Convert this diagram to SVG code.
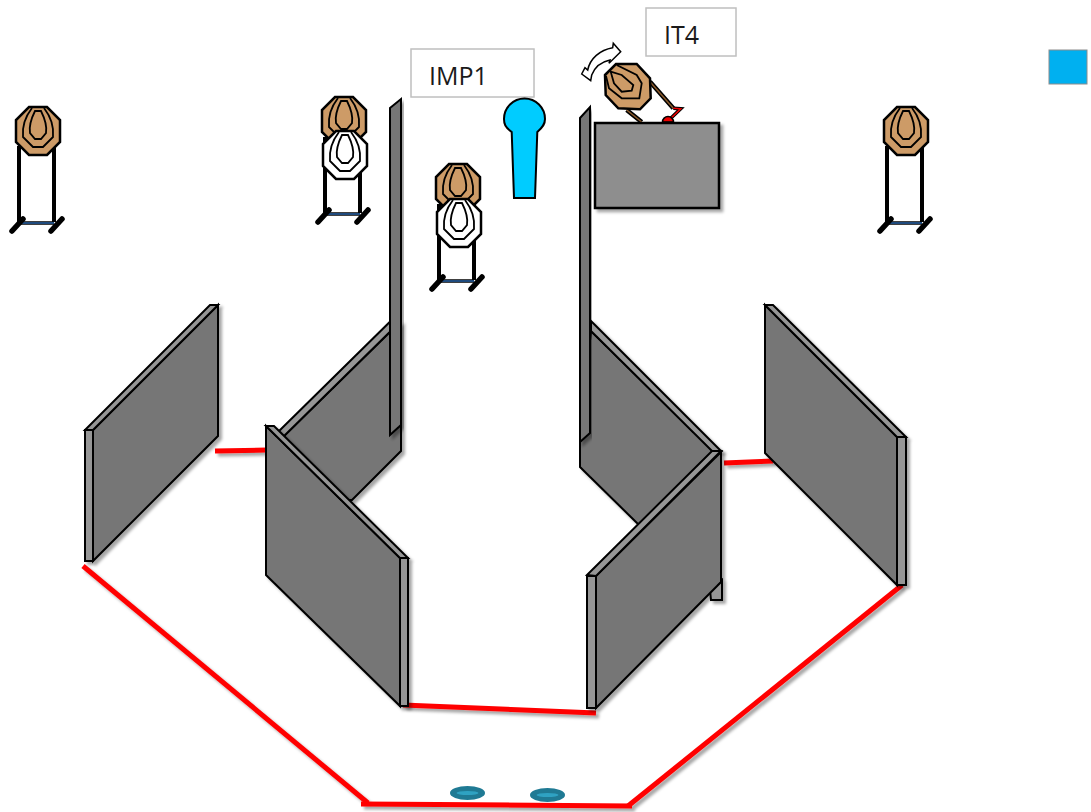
<svg xmlns="http://www.w3.org/2000/svg" width="1091" height="812" viewBox="0 0 1091 812">
<style>
text{font-family:"Open Sans","Noto Sans","Liberation Sans",sans-serif;font-size:25px;fill:#1a1a1a}
.box{fill:#fff;stroke:#bfbfbf;stroke-width:1.5}
.face{fill:#767676;stroke:#000;stroke-width:2;stroke-linejoin:miter}
.strip{fill:#969696;stroke:#000;stroke-width:2}
.red{fill:none;stroke:#f00;stroke-width:5}
.oct{stroke:#000;stroke-width:2.5}
.brown{fill:#cd9b67}
.white{fill:#fff}
.ring{fill:none;stroke:#000;stroke-width:1.800}
.leg{stroke:#000;stroke-width:4;fill:none}
.foot{stroke:#000;stroke-width:5.500;stroke-linecap:round;fill:none}
.sh{filter:url(#shadow)}
</style>
<defs>
<filter id="shadow" x="-20%" y="-20%" width="140%" height="140%">
<feDropShadow dx="3" dy="3" stdDeviation="1.5" flood-color="#000" flood-opacity="0.35"/>
</filter>
<g id="face">
<polygon class="oct" points="-9,-24 9,-24 22,-11 22,11 9,24 -9,24 -22,11 -22,-11"/>
<path class="ring" d="M-6,-23 C-13,-14 -16,-4 -15,6 L-5,16 L5,16 L15,6 C16,-4 13,-14 6,-23"/>
<path class="ring" d="M-3,-20 C-7,-12 -9,-4 -8,2 L-3,8 L3,8 L8,2 C9,-4 7,-12 3,-20 Z"/>
</g>
<g id="stand">
<path class="leg" d="M-19,15 V91 M16,15 V91"/>
<path d="M-19,92 H16" stroke="#000" stroke-width="3.500" fill="none"/>
<path d="M-19,92 H16" stroke="#2a64a8" stroke-width="1.500" fill="none"/>
<path class="foot" d="M-26,100 L-15,88 M13,100 L24,88"/>
</g>
</defs>
<g id="labels">
<g id="imp1"><rect class="box" x="411" y="49" width="123" height="48"/><text x="429" y="85">IMP1</text></g>
<g id="it4"><rect class="box" x="646" y="8" width="90" height="48"/><text x="664" y="44">IT4</text></g>
</g>
<g id="legend"><rect x="1049" y="50" width="38" height="34" fill="#00b0f0" stroke="#8c8c8c" stroke-width="1"/></g>

<g id="target-left"><use href="#stand" x="38" y="131"/><use href="#face" class="brown" x="38" y="131"/></g>
<g id="target-far-right"><use href="#stand" x="906" y="131"/><use href="#face" class="brown" x="906" y="131"/></g>
<g id="target-mid-left"><use href="#stand" x="344" y="122"/><use href="#face" class="brown" x="344" y="121"/><use href="#face" class="white" x="345" y="155"/></g>
<g id="target-mid"><use href="#stand" x="458" y="189"/><use href="#face" class="brown" x="458" y="188"/><use href="#face" class="white" x="459" y="223"/></g>

<g id="person"><path d="M514,198 L511.700,132 C505,127 504,124 504,119 A20.500,20.500 0 0 1 545,119 C545,124 543,127 537.300,132 L535,198 Z" fill="#00ccff" stroke="#000" stroke-width="2"/></g>

<g id="turning-target">
<path d="M626.700,110 L641.700,122 M650,81.700 L673.300,108.300" stroke="#000" stroke-width="4.500" fill="none"/>
<path d="M626.700,110 L641.700,122 M650,81.700 L673.300,108.300" stroke="#8a5a2b" stroke-width="1.500" fill="none"/>
<path d="M673.300,108.300 L680.700,108.800 L670,119" stroke="#000" stroke-width="3.500" fill="none"/>
<path d="M673.300,108.300 L680.700,108.800 L670,119" stroke="#e00" stroke-width="1.500" fill="none"/>
<path d="M662.500,122 A5.500,5.500 0 0 1 673.500,122 Z" fill="#e00" stroke="#000" stroke-width="1.500"/>
<polygon class="oct brown" points="605,75 616,64 636.700,64 650,78.300 650.700,98.300 640,109.300 618.300,108.300 605.700,95"/>
<path class="ring" d="M616.700,65 L636.700,75 L641.700,83.300 L639.300,98.300 L621.700,98.300 L609,88.300 L606,76"/>
<path class="ring" d="M610.700,71.700 L621.700,75 L633.300,85 L631.700,90.700 L621.700,91.700 L614,83.300 Z"/>
<path d="M581.700,74 L590.700,80.700 L591.700,75 C595,66.700 601.700,61.700 610,60 L609,63.300 L620.700,51.700 L613.300,43.300 L612.700,47.700 C600,50 590,58.300 587.700,70 L585,67.700 Z" fill="#fff" stroke="#000" stroke-width="1.500"/>
</g>

<g id="table"><rect class="sh" x="595" y="123" width="124" height="85" fill="#8e8e8e" stroke="#000" stroke-width="2.500"/></g>

<g id="panel-back-left" class="sh">
<polygon class="face" points="280,440 390,332 401,322 401,451 352,500 300,500"/>
<polygon class="strip" points="276,434 390,321.700 390,331.700 282,438"/>
</g>
<g id="wall-left"><polygon class="face sh" points="390,108 401,99 401,425 390,435"/></g>

<g id="panel-back-right" class="sh">
<polygon class="face" points="580,440 591,331 713,451 700,530 638,524 580,467"/>
<polygon class="strip" points="591,321 721,451 712,451 591,331"/>
</g>
<g id="wall-right"><polygon class="face sh" points="580,118 590,107 590,433 580,442"/></g>

<g id="connectors" class="sh">
<path class="red" d="M215,451 L267,450"/>
<path class="red" d="M724,463 L773,461"/>
<path class="red" d="M83,566 L368,803"/>
<path class="red" d="M361,804 L632,806"/>
<path class="red" d="M628,806 L902,585"/>
<path class="red" d="M403,705 L596,713"/>
</g>

<g id="panel-far-left" class="sh">
<polygon class="face" points="93,430 218,305 218,436 93,561"/>
<polygon class="strip" points="85,430 210,305 218,305 93,430"/>
<rect class="strip" x="85" y="430" width="8" height="131"/>
</g>
<g id="panel-front-left" class="sh">
<polygon class="face" points="266,426 400,558 400,706 266,575"/>
<polygon class="strip" points="266,426 274,426 408,558 400,558"/>
<rect class="strip" x="400" y="558" width="8" height="148"/>
</g>
<g id="panel-front-right" class="sh">
<polygon class="strip" points="710,590 722,580 722,600 711,600"/>
<polygon class="face" points="596,576 721,452 721,582 596,708"/>
<polygon class="strip" points="587,575 712,451 721,451 596,576"/>
<rect class="strip" x="587" y="576" width="9" height="132"/>
</g>
<g id="panel-far-right" class="sh">
<polygon class="face" points="765,305 897,437 897,585 765,453"/>
<polygon class="strip" points="765,305 773,305 906,437 897,437"/>
<rect class="strip" x="897" y="437" width="9" height="148"/>
</g>

<g id="marker-1"><ellipse cx="467.500" cy="793" rx="17.500" ry="7" fill="#1f7a94"/><ellipse cx="467.500" cy="793" rx="11" ry="2" fill="#2fa2c2"/></g>
<g id="marker-2"><ellipse cx="547.500" cy="795" rx="17.500" ry="7" fill="#1f7a94"/><ellipse cx="547.500" cy="795" rx="11" ry="2" fill="#2fa2c2"/></g>
</svg>
